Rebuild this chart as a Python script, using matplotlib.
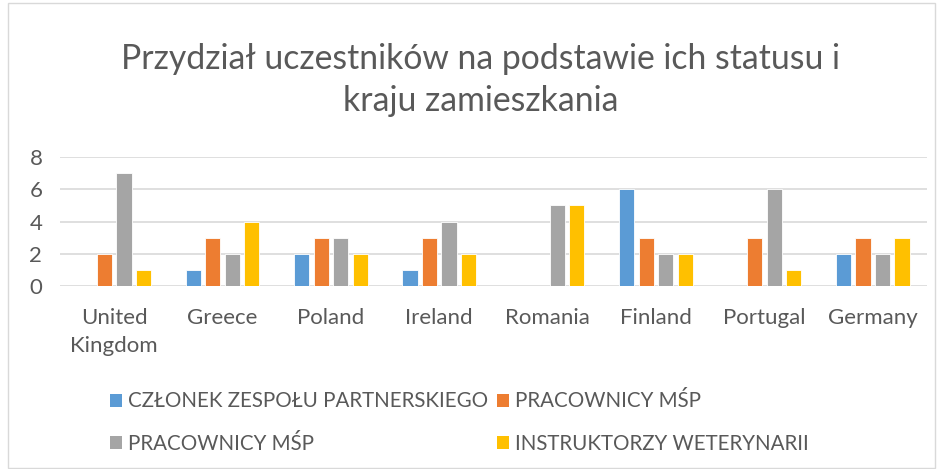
import matplotlib
matplotlib.use("Agg")
import matplotlib.pyplot as plt
from matplotlib.patches import Rectangle, Patch
import numpy as np

categories = ["United\nKingdom", "Greece", "Poland", "Ireland", "Romania", "Finland", "Portugal", "Germany"]
series_names = ["CZŁONEK ZESPOŁU PARTNERSKIEGO", "PRACOWNICY MŚP", "PRACOWNICY MŚP", "INSTRUKTORZY WETERYNARII"]
s1 = [0, 1, 2, 1, 0, 6, 0, 2]
s2 = [2, 3, 3, 3, 0, 3, 3, 3]
s3 = [7, 2, 3, 4, 5, 2, 6, 2]
s4 = [1, 4, 2, 2, 5, 2, 1, 3]
yticks = [0, 2, 4, 6, 8]
colors = ["#5B9BD5", "#ED7D31", "#A5A5A5", "#FFC000"]
title = "Przydział uczestników na podstawie ich statusu i\nkraju zamieszkania"

plt.rcParams['font.family'] = ['Lato', 'DejaVu Sans']
text_color = "#595959"

fig = plt.figure(figsize=(9.42, 4.69), dpi=100)
ax = fig.add_axes([0.0637, 0.390, 0.984 - 0.0637, 0.275])

x = np.arange(len(categories))
step = 0.18
width = 0.14
all_series = [s1, s2, s3, s4]
for i, (vals, c) in enumerate(zip(all_series, colors)):
    ax.bar(x + (i - 1.5) * step, vals, width=width, color=c, edgecolor="white", linewidth=0.6, zorder=3)

ax.set_xlim(-0.5, len(categories) - 0.5)
ax.set_ylim(0, 8)
ax.set_yticks(yticks)
ax.set_yticklabels([str(v) for v in yticks], fontsize=16, color=text_color)
ax.set_xticks(x)
ax.set_xticklabels(categories, fontsize=16, color=text_color, linespacing=1.5)
ax.tick_params(axis='both', length=0)
ax.tick_params(axis='x', pad=16)
ax.tick_params(axis='y', pad=22)
for lab in ax.get_yticklabels():
    lab.set_horizontalalignment('left')
ax.grid(axis='y', color="#D9D9D9", linewidth=1.2, zorder=0)
for sp in ax.spines.values():
    sp.set_visible(False)

fig.text(0.51, 0.83, title, ha='center', va='center', fontsize=24.3, color=text_color,
         linespacing=1.4)

handles = [Patch(facecolor=c, edgecolor='none') for c in colors]
order = [0, 2, 1, 3]
leg = fig.legend([handles[i] for i in order], [series_names[i] for i in order],
                 loc='upper left', bbox_to_anchor=(0.108, 0.183),
                 ncol=2, frameon=False, fontsize=14.8, labelcolor=text_color,
                 handlelength=0.6, handleheight=0.6, handletextpad=0.3,
                 columnspacing=0.4, labelspacing=1.1, borderaxespad=0)

fig.patches.append(Rectangle((0.009, 0.003), 0.984, 0.99, transform=fig.transFigure,
                             fill=False, edgecolor="#D9D9D9", linewidth=1))

fig.savefig("out.png", dpi=100)
